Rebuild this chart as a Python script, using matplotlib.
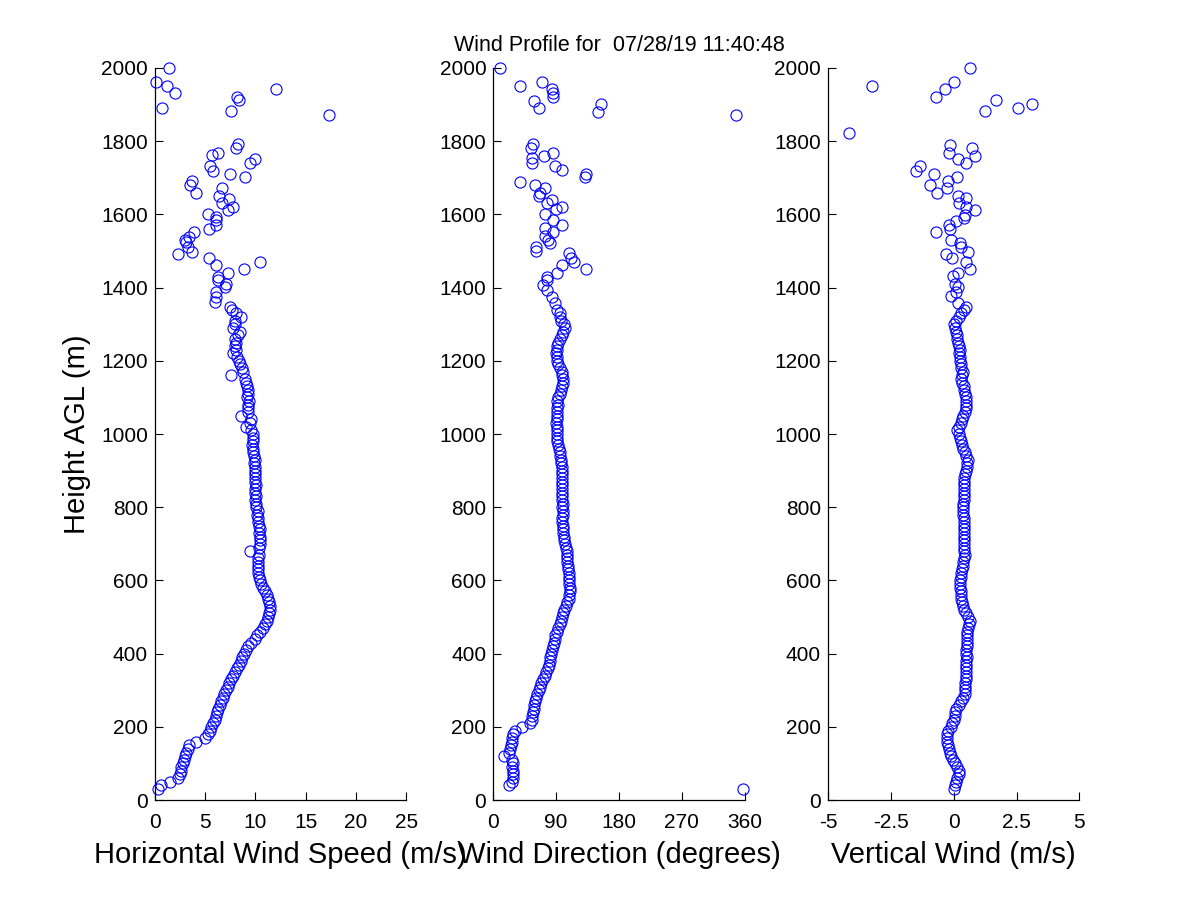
"""
Wind profile plot (speed, direction, vertical wind vs height)
"""
#%% Import Modules
import numpy as np
import matplotlib
matplotlib.use("Agg")
import matplotlib.pyplot as plt

plt.rcParams['font.family'] = ['Liberation Sans', 'DejaVu Sans']

#%% Data
title = "Wind Profile for  07/28/19 11:40:48"

# lower gates, every 10 m from 30 to 1340 m
hgt_low = list(range(30, 1350, 10))

spd_low = [0.3, 0.6, 1.5, 2.3, 2.5, 2.6, 2.6, 2.8, 2.9, 3.0,
           3.1, 3.3, 3.4, 4.1, 5.0, 5.3, 5.5, 5.6, 5.8, 6.0,
           6.1, 6.2, 6.3, 6.5, 6.6, 6.8, 6.9, 7.1, 7.3, 7.4,
           7.6, 7.8, 8.0, 8.2, 8.4, 8.6, 8.7, 8.9, 9.1, 9.3,
           9.6, 10.0, 10.2, 10.5, 10.8, 11.0, 11.2, 11.3, 11.4, 11.5,
           11.5, 11.4, 11.3, 11.2, 11.0, 10.8, 10.6, 10.45, 10.4, 10.3,
           10.3, 10.3, 10.3, 10.3, 10.35, 9.5, 10.4, 10.5, 10.45, 10.5,
           10.4, 10.45, 10.4, 10.3, 10.3, 10.2, 10.3, 10.1, 10.1, 10.0,
           10.1, 10.0, 10.0, 10.1, 10.0, 9.95, 10.0, 10.0, 10.0, 9.9,
           10.0, 9.9, 9.8, 9.8, 9.7, 9.8, 9.8, 9.75, 9.6, 9.1,
           9.5, 9.6, 8.6, 9.3, 9.3, 9.3, 9.4, 9.2, 9.3, 9.3,
           9.2, 9.1, 9.0, 7.6, 8.8, 8.7, 8.5, 8.4, 8.2, 7.8,
           8.1, 8.0, 8.1, 8.0, 8.3, 8.5, 7.8, 8.0, 8.0, 8.6,
           8.1, 7.7]

dir_low = [358, 23, 27, 29, 28, 28, 27, 28, 27, 15,
           22, 24, 26, 27, 27, 29, 31, 41, 53, 55,
           56, 57, 58, 59, 60, 61, 63, 65, 67, 69,
           71, 74, 76, 78, 80, 81, 82, 83, 84, 86,
           87, 88, 89, 91, 93, 95, 97, 99, 100, 102,
           104, 106, 108, 109, 110, 110, 109, 109, 108, 108,
           107, 107, 106, 106, 106, 105, 104, 103, 102, 101,
           100, 100, 100, 99, 99, 100, 100, 99, 100, 99,
           99, 99, 98, 98, 98, 98, 98, 98, 98, 97,
           97, 96, 95, 94, 93, 92, 92, 91, 91, 91,
           90, 91, 91, 92, 92, 93, 92, 93, 96, 97,
           99, 100, 100, 99, 98, 95, 93, 92, 91, 90,
           91, 92, 93, 95, 98, 100, 103, 102, 97, 96,
           95, 92]

w_low = [0.0, 0.05, 0.1, 0.15, 0.2, 0.2, 0.15, 0.05, -0.03, -0.1,
         -0.16, -0.2, -0.23, -0.25, -0.26, -0.25, -0.23, -0.12, -0.05, 0.0,
         0.04, 0.07, 0.1, 0.2, 0.3, 0.38, 0.44, 0.45, 0.46, 0.46,
         0.47, 0.48, 0.5, 0.5, 0.5, 0.5, 0.51, 0.5, 0.5, 0.52,
         0.54, 0.54, 0.53, 0.53, 0.55, 0.6, 0.63, 0.55, 0.5, 0.42,
         0.36, 0.33, 0.31, 0.3, 0.28, 0.27, 0.27, 0.27, 0.28, 0.3,
         0.33, 0.36, 0.38, 0.42, 0.44, 0.42, 0.4, 0.4, 0.4, 0.41,
         0.4, 0.4, 0.39, 0.4, 0.39, 0.38, 0.37, 0.37, 0.38, 0.4,
         0.4, 0.4, 0.4, 0.41, 0.4, 0.4, 0.45, 0.5, 0.53, 0.53,
         0.55, 0.5, 0.45, 0.37, 0.33, 0.3, 0.25, 0.2, 0.15, 0.2,
         0.3, 0.35, 0.38, 0.45, 0.5, 0.5, 0.48, 0.5, 0.45, 0.4,
         0.4, 0.35, 0.3, 0.35, 0.37, 0.3, 0.28, 0.25, 0.24, 0.22,
         0.24, 0.2, 0.17, 0.14, 0.12, 0.1, 0.05, 0.01, 0.1, 0.21,
         0.3, 0.4]

# upper gates (noisy, some missing)
hgt_spd_up = [1348, 1362, 1375, 1388, 1402, 1411, 1420, 1430, 1441, 1450,
              1461, 1470, 1480, 1491, 1498, 1512, 1525, 1530, 1539, 1552,
              1559, 1571, 1585, 1594, 1601, 1612, 1621, 1632, 1642, 1650,
              1659, 1672, 1680, 1691, 1701, 1710, 1719, 1732, 1739, 1751,
              1762, 1769, 1780, 1792, 1871, 1883, 1890, 1913, 1921, 1931,
              1942, 1951, 1961, 2000]
spd_up = [7.5, 6.0, 6.1, 6.1, 7.0, 7.1, 6.3, 6.3, 7.3, 8.9,
          6.1, 10.5, 5.4, 2.3, 3.65, 3.3, 3.15, 3.0, 3.4, 3.9,
          5.4, 6.1, 6.1, 6.1, 5.3, 7.3, 7.8, 6.7, 7.4, 6.4,
          4.1, 6.7, 3.5, 3.7, 9.0, 7.5, 5.8, 5.5, 9.5, 10.0,
          5.65, 6.3, 8.1, 8.3, 17.3, 7.6, 0.75, 8.4, 8.2, 2.0,
          12.1, 1.2, 0.1, 1.4]

hgt_dir_up = [1357, 1375, 1393, 1407, 1420, 1430, 1439, 1450, 1461, 1469,
              1480, 1494, 1500, 1512, 1521, 1530, 1541, 1553, 1562, 1571,
              1585, 1601, 1614, 1621, 1630, 1639, 1650, 1659, 1671, 1680,
              1689, 1701, 1710, 1721, 1732, 1741, 1753, 1759, 1769, 1780,
              1792, 1871, 1881, 1890, 1902, 1911, 1921, 1932, 1942, 1951,
              1961, 2000]
dir_up = [89, 84, 77, 72, 77, 77, 91, 133, 98, 115,
          111, 109, 62, 61, 81, 79, 74, 85, 74, 98,
          86, 74, 90, 98, 77, 84, 65, 67, 74, 60,
          39, 131, 133, 98, 89, 55, 55, 73, 85, 54,
          57, 347, 150, 66, 154, 59, 85, 85, 84, 39,
          70, 10]

hgt_w_up = [1348, 1357, 1377, 1389, 1401, 1411, 1432, 1439, 1450, 1469,
            1481, 1491, 1498, 1512, 1521, 1530, 1551, 1559, 1571, 1583,
            1589, 1598, 1612, 1621, 1630, 1644, 1651, 1659, 1671, 1680,
            1692, 1701, 1710, 1719, 1732, 1739, 1751, 1760, 1769, 1780,
            1789, 1821, 1883, 1890, 1902, 1912, 1921, 1942, 1951, 1961,
            2000]
w_up = [0.5, 0.17, -0.09, 0.08, 0.17, 0.04, -0.03, 0.17, 0.63, 0.5,
        -0.07, -0.29, 0.57, 0.3, 0.24, -0.09, -0.71, -0.16, -0.19, 0.08,
        0.4, 0.44, 0.83, 0.5, 0.21, 0.5, 0.17, -0.66, -0.27, -0.95,
        -0.23, 0.13, -0.79, -1.51, -1.35, 0.48, 0.17, 0.83, -0.19, 0.73,
        -0.16, -4.15, 1.23, 2.55, 3.1, 1.69, -0.71, -0.36, -3.25, 0.0,
        0.65]

hgt_ticks = [0, 200, 400, 600, 800, 1000, 1200, 1400, 1600, 1800, 2000]
spd_ticks = [0, 5, 10, 15, 20, 25]
dir_ticks = [0, 90, 180, 270, 360]
w_ticks = [-5, -2.5, 0, 2.5, 5]
w_labels = ["-5", "-2.5", "0", "2.5", "5"]

#%% Plotting
fig = plt.figure(figsize=(12, 9), dpi=100)

panels = [
    (0.129, hgt_low + hgt_spd_up, spd_low + spd_up, [0, 25], spd_ticks,
     [str(t) for t in spd_ticks], "Horizontal Wind Speed (m/s)"),
    (0.411, hgt_low + hgt_dir_up, dir_low + dir_up, [0, 360], dir_ticks,
     [str(t) for t in dir_ticks], "Wind Direction (degrees)"),
    (0.690, hgt_low + hgt_w_up, w_low + w_up, [-5, 5], w_ticks,
     w_labels, "Vertical Wind (m/s)"),
]

axes = []
for left, hgt, val, xlim, xt, xtl, xlab in panels:
    ax = fig.add_axes([left, 0.111, 0.2095, 0.8135])
    ax.plot(val, hgt, 'o', mfc='none', mec=(0, 0, 1), ms=8, mew=0.8,
            linestyle='none', clip_on=False)
    ax.set_xlim(xlim)
    ax.set_ylim(0, 2000)
    ax.set_xticks(xt)
    ax.set_xticklabels(xtl)
    ax.set_yticks(hgt_ticks)
    ax.tick_params(direction='in', length=5.5, width=0.8, labelsize=15)
    ax.tick_params(axis='y', pad=5)
    ax.tick_params(axis='x', pad=9)
    ax.spines['top'].set_visible(False)
    ax.spines['right'].set_visible(False)
    ax.spines['left'].set_linewidth(0.9)
    ax.spines['bottom'].set_linewidth(0.9)
    ax.set_xlabel(xlab, fontsize=21, labelpad=7)
    axes.append(ax)

axes[0].set_ylabel("Height AGL (m)", fontsize=21, labelpad=7)
axes[1].set_title(title, fontsize=15.5, pad=12)

plt.savefig("out.png", dpi=100)
